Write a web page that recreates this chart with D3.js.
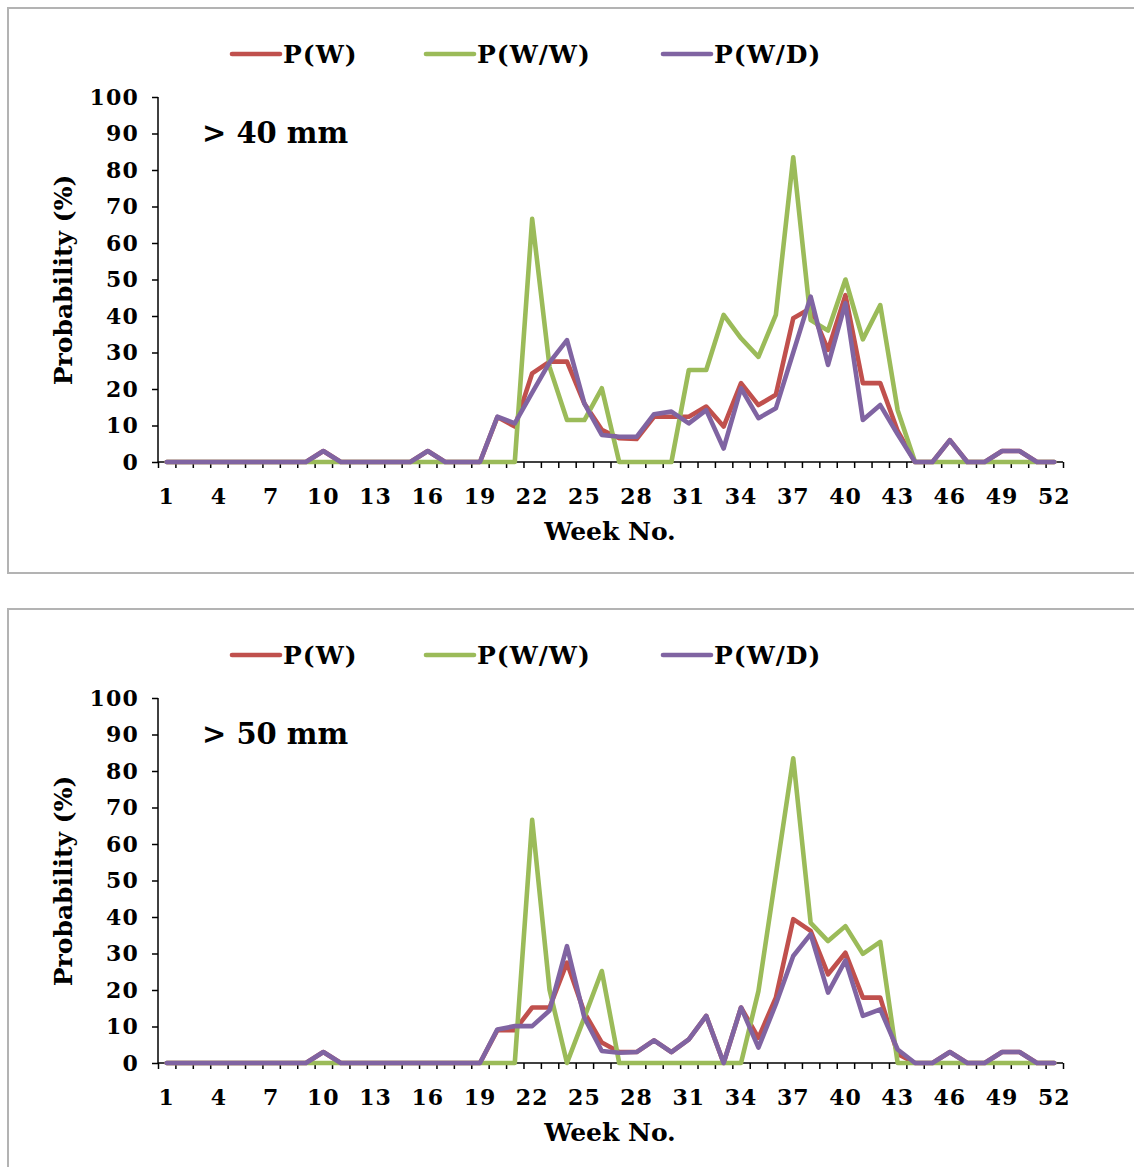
<!DOCTYPE html>
<html>
<head>
<meta charset="utf-8">
<script src="https://cdn.jsdelivr.net/npm/d3@7"></script>
<style>
  html, body { margin: 0; padding: 0; background: #fff; }
  svg { display: block; }
  text { font-family: "DejaVu Serif", Georgia, serif; font-weight: bold; fill: #000; }
</style>
</head>
<body>
<svg id="chart" width="1134" height="1167"></svg>
<script>
const weeks = d3.range(1, 53);
const xTickLabels = [1, 4, 7, 10, 13, 16, 19, 22, 25, 28, 31, 34, 37, 40, 43, 46, 49, 52];
const yTicks = [0, 10, 20, 30, 40, 50, 60, 70, 80, 90, 100];
const seriesNames = ["P(W)", "P(W/W)", "P(W/D)"];
const panelLabels = ["> 40 mm", "> 50 mm"];

// > 40 mm
const pw40 = [0,0,0,0,0,0,0,0,0,3,0,0,0,0,0,3,0,0,0,12.3,9.7,24.3,27.5,27.5,16,8.8,6.5,6.3,12.4,12.4,12.4,15.2,9.7,21.6,15.6,18.4,39.4,42.1,30.7,45.7,21.6,21.6,8.5,0,0,6,0,0,3,3,0,0];
const pww40 = [0,0,0,0,0,0,0,0,0,0,0,0,0,0,0,0,0,0,0,0,0,66.6,26,11.5,11.5,20.2,0,0,0,0,25.2,25.2,40.3,33.9,28.8,40.3,83.5,38.9,36,50,33.6,43,14.2,0,0,0,0,0,0,0,0,0];
const pwd40 = [0,0,0,0,0,0,0,0,0,3,0,0,0,0,0,3,0,0,0,12.4,10.6,19,27.3,33.4,16,7.4,6.9,6.9,13.1,13.8,10.6,14.2,3.7,20.2,12,14.7,30,45.3,26.6,43.5,11.5,15.6,7.6,0,0,6,0,0,3,3,0,0];

// > 50 mm
const pw50 = [0,0,0,0,0,0,0,0,0,3,0,0,0,0,0,0,0,0,0,9,9,15.2,15.2,27.5,13.8,5.6,3,3,6.2,3,6.5,12.9,0,15.2,6.9,17.9,39.4,36.2,24.3,30.2,17.9,17.9,2.5,0,0,3,0,0,3,3,0,0];
const pww50 = [0,0,0,0,0,0,0,0,0,0,0,0,0,0,0,0,0,0,0,0,0,66.6,20,0,12.5,25.2,0,0,0,0,0,0,0,0,19.7,51.5,83.5,38.4,33.4,37.5,29.9,33.2,0,0,0,0,0,0,0,0,0,0];
const pwd50 = [0,0,0,0,0,0,0,0,0,3,0,0,0,0,0,0,0,0,0,9.2,10.1,10.1,14.4,32,12.4,3.3,2.8,3,6.2,3,6.5,12.9,0,15.2,4.2,16.1,29.3,35.3,19.3,28.1,12.9,14.7,3.7,0,0,3,0,0,3,3,0,0];

const colors = ["#C0504D", "#9BBB59", "#8064A2"];

const svg = d3.select("#chart");

function drawPanel(offsetY, series, label, boxHeight) {
  const g = svg.append("g").attr("transform", `translate(0,${offsetY})`);
  g.append("rect").attr("x", 8).attr("y", 8).attr("width", 1140).attr("height", boxHeight)
    .attr("fill", "none").attr("stroke", "#b3b3b3").attr("stroke-width", 2);

  const x = d3.scaleLinear().domain([0.5, 52.5]).range([158, 1063]);
  const y = d3.scaleLinear().domain([0, 100]).range([462, 97]);

  // y axis
  const yAxis = d3.axisLeft(y).tickValues(yTicks).tickSize(6).tickPadding(13);
  const ya = g.append("g").attr("transform", "translate(158,0)").call(yAxis);
  ya.select(".domain").attr("stroke", "#000").attr("stroke-width", 1.5).attr("d", `M0,${y(100)}V${y(0)}`);
  ya.selectAll(".tick line").attr("stroke", "#000").attr("stroke-width", 1.5);
  ya.selectAll(".tick text").style("font-family", '"DejaVu Serif", serif').style("font-weight", "bold")
    .style("font-size", "22px").style("letter-spacing", "1.2px").attr("fill", "#000");

  // x axis: ticks between categories
  const xAxis = d3.axisBottom(x).tickValues(d3.range(0.5, 53, 1)).tickSize(6).tickFormat("");
  const xa = g.append("g").attr("transform", `translate(0,${y(0)})`).call(xAxis);
  xa.select(".domain").attr("stroke", "#000").attr("stroke-width", 1.5).attr("d", `M${x(0.5)},0H${x(52.5)}`);
  xa.selectAll(".tick line").attr("stroke", "#000").attr("stroke-width", 1.5);
  // x labels
  g.append("g").selectAll("text").data(xTickLabels).join("text")
    .attr("x", d => x(d)).attr("y", y(0) + 42)
    .attr("text-anchor", "middle").style("font-size", "22px").style("letter-spacing", "1px").text(d => d);

  // lines
  const line = d3.line().x((d, i) => x(weeks[i])).y(d => y(d));
  series.forEach((s, k) => {
    g.append("path").datum(s).attr("d", line).attr("fill", "none")
      .attr("stroke", colors[k]).attr("stroke-width", 4.6).attr("stroke-linejoin", "round").attr("stroke-linecap", "round");
  });

  // legend
  const legendX = [232, 426, 663];
  seriesNames.forEach((n, k) => {
    g.append("line").attr("x1", legendX[k]).attr("x2", legendX[k] + 48).attr("y1", 54).attr("y2", 54)
      .attr("stroke", colors[k]).attr("stroke-width", 4.6).attr("stroke-linecap", "round");
    g.append("text").attr("x", legendX[k] + 51).attr("y", 63).style("font-size", "25px").style("letter-spacing", "1px").text(n);
  });

  // panel label
  g.append("text").attr("x", 202).attr("y", 143).style("font-size", "29px").text(label);

  // axis titles
  g.append("text").attr("transform", "translate(72,280) rotate(-90)").attr("text-anchor", "middle")
    .style("font-size", "25px").text("Probability (%)");
  g.append("text").attr("x", 610).attr("y", 540).attr("text-anchor", "middle").style("font-size", "25px").text("Week No.");
}

drawPanel(0, [pw40, pww40, pwd40], panelLabels[0], 565);
drawPanel(601, [pw50, pww50, pwd50], panelLabels[1], 600);
</script>
</body>
</html>
